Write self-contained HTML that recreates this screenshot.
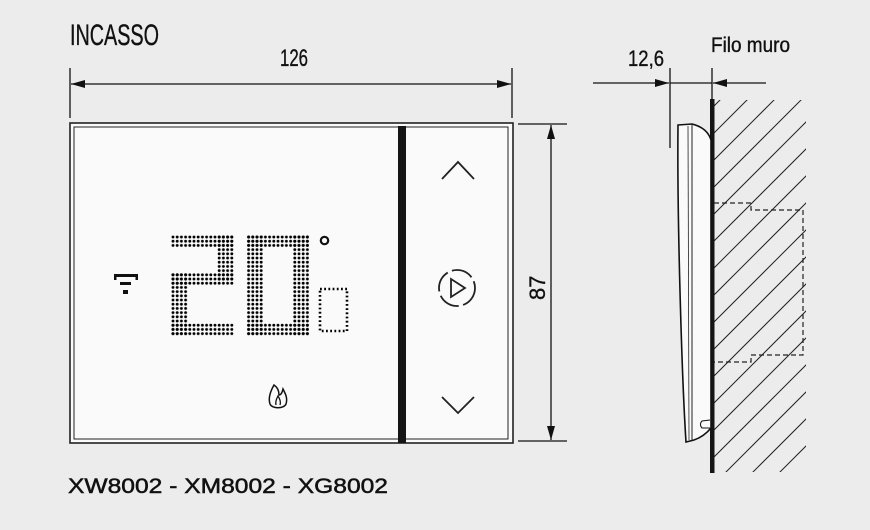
<!DOCTYPE html>
<html><head><meta charset="utf-8"><style>
html,body{margin:0;padding:0;background:#ececec;overflow:hidden;width:870px;height:530px;}
svg{display:block;}
text{font-family:"Liberation Sans Narrow","Liberation Sans",sans-serif;fill:#111;stroke:#111;stroke-width:0.35;}
</style></head><body>
<svg width="870" height="530" viewBox="0 0 870 530" xmlns="http://www.w3.org/2000/svg">
<defs>
<pattern id="dots" patternUnits="userSpaceOnUse" x="170.9" y="234.9" width="4.2" height="4.2">
<circle cx="2.1" cy="2.1" r="1.45" fill="#000"/>
</pattern>
<marker id="ah" viewBox="0 0 14 8" refX="14" refY="4" markerWidth="14" markerHeight="8" markerUnits="userSpaceOnUse" orient="auto">
<path d="M0,0 L14,4 L0,8 Z" fill="#111"/>
</marker>
<clipPath id="hc"><rect x="714" y="100" width="92" height="372"/></clipPath>
</defs>
<rect width="870" height="530" fill="#ececec"/>

<text x="70" y="45" font-size="30" textLength="89" lengthAdjust="spacingAndGlyphs">INCASSO</text>
<text x="280" y="66" font-size="24" textLength="28" lengthAdjust="spacingAndGlyphs">126</text>
<text x="628" y="66" font-size="22" textLength="36" lengthAdjust="spacingAndGlyphs">12,6</text>
<text x="711" y="52" font-size="21" textLength="79" lengthAdjust="spacingAndGlyphs">Filo muro</text>
<text transform="translate(545,300) rotate(-90)" font-size="22">87</text>
<text x="68" y="493" font-size="21" textLength="320" lengthAdjust="spacingAndGlyphs" style="font-family:'Liberation Sans',sans-serif;stroke-width:0.5">XW8002 - XM8002 - XG8002</text>

<g stroke="#111" stroke-width="1.3" fill="none">
<line x1="70" y1="68" x2="70" y2="118"/>
<line x1="512" y1="68" x2="512" y2="118"/>
<line x1="290" y1="84" x2="71" y2="84" marker-end="url(#ah)"/>
<line x1="290" y1="84" x2="511" y2="84" marker-end="url(#ah)"/>
<line x1="518" y1="124" x2="567" y2="124"/>
<line x1="518" y1="441" x2="567" y2="441"/>
<line x1="551" y1="280" x2="551" y2="125" marker-end="url(#ah)"/>
<line x1="551" y1="280" x2="551" y2="440" marker-end="url(#ah)"/>
<line x1="670" y1="68" x2="670" y2="148"/>
<line x1="712" y1="68" x2="712" y2="100"/>
<line x1="670" y1="83" x2="712" y2="83"/>
<line x1="593" y1="83" x2="669" y2="83" marker-end="url(#ah)"/>
<line x1="766" y1="83" x2="713" y2="83" marker-end="url(#ah)"/>
</g>

<rect x="70" y="123" width="443" height="320" fill="#fafafa" stroke="#222" stroke-width="1.6"/>
<rect x="74" y="127" width="434" height="312" fill="none" stroke="#222" stroke-width="1"/>
<rect x="398" y="126" width="8" height="317" fill="#151515"/>

<g fill="url(#dots)">
<rect x="170.9" y="234.9" width="63" height="12.6"/>
<rect x="217.1" y="234.9" width="16.8" height="46.2"/>
<rect x="170.9" y="272.7" width="63" height="12.6"/>
<rect x="170.9" y="272.7" width="16.8" height="63"/>
<rect x="170.9" y="323.1" width="63" height="12.6"/>
<rect x="246.5" y="234.9" width="63" height="12.6"/>
<rect x="246.5" y="323.1" width="63" height="12.6"/>
<rect x="246.5" y="234.9" width="16.8" height="100.8"/>
<rect x="292.7" y="234.9" width="16.8" height="100.8"/>
</g>
<rect x="320" y="289" width="27" height="42" fill="none" stroke="#000" stroke-width="2.6" stroke-dasharray="1.8 2.4"/>
<circle cx="324.5" cy="240.5" r="3.7" fill="none" stroke="#111" stroke-width="2.2"/>

<rect x="114" y="274" width="24" height="3" fill="#111"/>
<rect x="114" y="274" width="2.5" height="6" fill="#111"/>
<rect x="135.5" y="274" width="2.5" height="6" fill="#111"/>
<rect x="120" y="282" width="11" height="3" fill="#111"/>
<rect x="123" y="290" width="5" height="4" fill="#111"/>

<path d="M274,385 C270,392 268,398 270,404 C272,409 284,409 286,404 C288,398 285,393 283,389 C282,393 281,395 279,395 C279,390 277,387 274,385 Z" fill="none" stroke="#111" stroke-width="1.5"/>
<path d="M276,405 C275,401 277,398 278,396 C280,399 281,402 280,405" fill="none" stroke="#111" stroke-width="1.3"/>

<g fill="none" stroke="#222" stroke-width="1.8">
<polyline points="442,179 458,162 474,179"/>
<polyline points="442,397 458,413 474,397"/>
<circle cx="457" cy="288" r="18" stroke-dasharray="22 4.5"/>
<path d="M451,279 L465,288 L451,297 Z"/>
</g>

<g clip-path="url(#hc)" stroke="#222" stroke-width="1" fill="none">
<line x1="660" y1="160" x2="780" y2="40"/>
<line x1="660" y1="187" x2="810" y2="37"/>
<line x1="660" y1="214" x2="830" y2="44"/>
<line x1="660" y1="241" x2="830" y2="71"/>
<line x1="660" y1="268" x2="830" y2="98"/>
<line x1="660" y1="295" x2="830" y2="125"/>
<line x1="660" y1="322" x2="830" y2="152"/>
<line x1="660" y1="349" x2="830" y2="179"/>
<line x1="660" y1="376" x2="830" y2="206"/>
<line x1="660" y1="403" x2="830" y2="233"/>
<line x1="660" y1="430" x2="830" y2="260"/>
<line x1="660" y1="457" x2="830" y2="287"/>
<line x1="660" y1="484" x2="830" y2="314"/>
<line x1="660" y1="511" x2="830" y2="341"/>
<line x1="660" y1="538" x2="830" y2="368"/>
<line x1="660" y1="565" x2="830" y2="395"/>
<line x1="660" y1="592" x2="830" y2="422"/>
<line x1="660" y1="619" x2="830" y2="449"/>
</g>
<polyline points="714,203 751,203 751,210 803,210 803,355 751,355 751,362 714,362" fill="none" stroke="#222" stroke-width="1.2" stroke-dasharray="5 3"/>
<rect x="710" y="99" width="4.5" height="374" fill="#151515"/>

<path d="M678,125 L692,124 C700,126 708,130 711,140 L711,428 C706,434 700,438 694,440 L686,442 C682,380 677,220 678,125 Z" fill="#fafafa" stroke="#111" stroke-width="1.6"/>
<line x1="692" y1="125" x2="692" y2="440" stroke="#222" stroke-width="1"/>
<line x1="688" y1="126" x2="689" y2="440" stroke="#222" stroke-width="0.8"/>
<path d="M710,420 L702,421 C700,423 700,426 702,428 L710,428" fill="none" stroke="#111" stroke-width="1"/>
</svg>
</body></html>
